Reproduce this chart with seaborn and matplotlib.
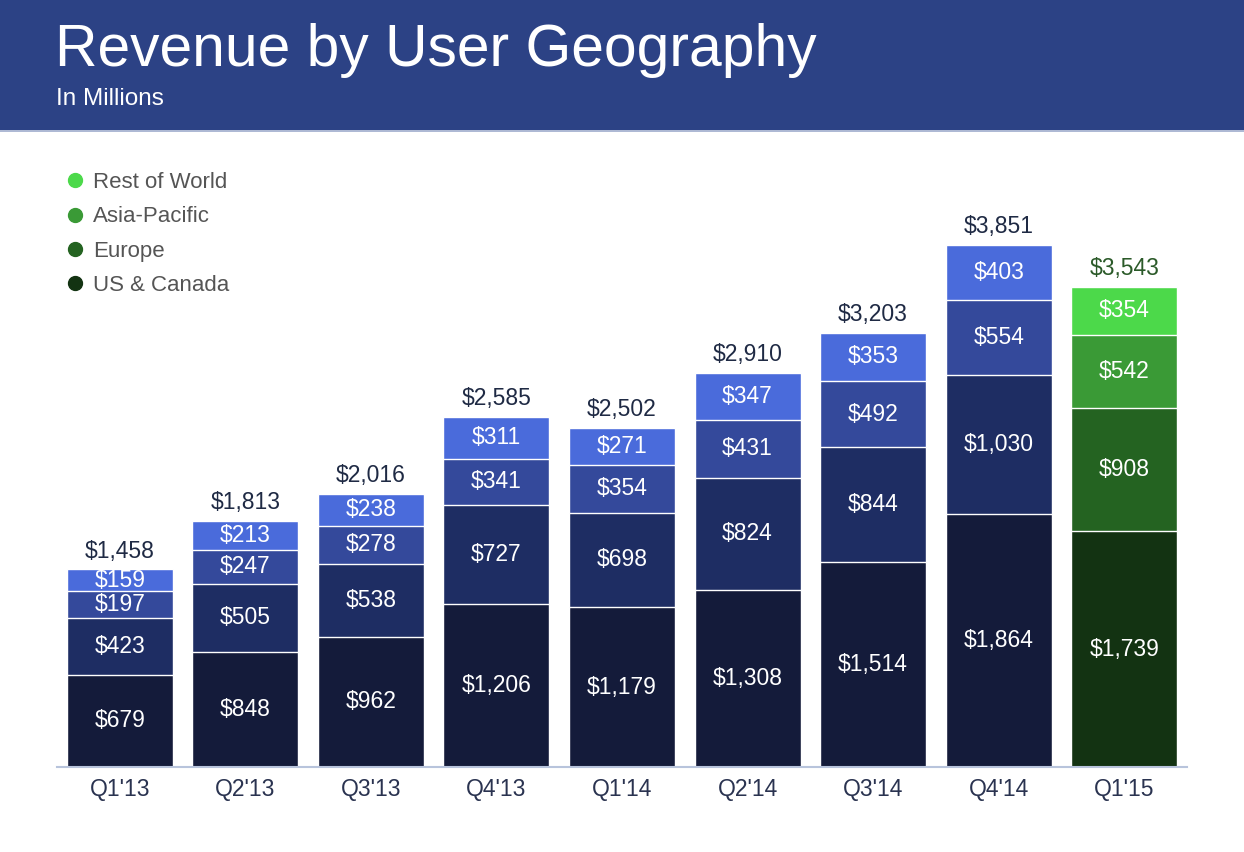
import matplotlib
matplotlib.use("Agg")
import matplotlib.pyplot as plt
import seaborn as sns
import numpy as np
from matplotlib.lines import Line2D
from matplotlib.patches import Rectangle

quarters = ["Q1'13", "Q2'13", "Q3'13", "Q4'13", "Q1'14", "Q2'14", "Q3'14", "Q4'14", "Q1'15"]
us_canada = [679, 848, 962, 1206, 1179, 1308, 1514, 1864, 1739]
europe = [423, 505, 538, 727, 698, 824, 844, 1030, 908]
asia_pacific = [197, 247, 278, 341, 354, 431, 492, 554, 542]
rest_of_world = [159, 213, 238, 311, 271, 347, 353, 403, 354]
totals = [1458, 1813, 2016, 2585, 2502, 2910, 3203, 3851, 3543]
series_names = ["US & Canada", "Europe", "Asia-Pacific", "Rest of World"]

blue_cols = ["#141B3A", "#1E2D63", "#34499B", "#4A6BDB"]
green_cols = ["#133312", "#246321", "#3A9A36", "#4CD94A"]

sns.set_theme(style="white")
plt.rcParams['font.family'] = ['Liberation Sans', 'DejaVu Sans']

W, H = 1244, 852
fig = plt.figure(figsize=(W / 100, H / 100), dpi=100)
fig.patch.set_facecolor("white")

# header band
fig.patches.append(Rectangle((0, 1 - 130 / H), 1, 130 / H, transform=fig.transFigure,
                             facecolor="#2C4285", edgecolor="none", zorder=0))
fig.patches.append(Rectangle((0, 1 - 132 / H), 1, 2 / H, transform=fig.transFigure,
                             facecolor="#AEB9D4", edgecolor="none", zorder=0))
fig.text(55 / W, 1 - 50 / H, "Revenue by User Geography", color="white", fontsize=42.3,
         va="center", ha="left")
fig.text(56 / W, 1 - 99 / H, "In Millions", color="white", fontsize=17.5,
         va="center", ha="left")

left, right = 57 / W, 1187 / W
bottom = 1 - 767 / H
ymax = 4000
ppu = 522 / 3851
ax = fig.add_axes([left, bottom, right - left, ymax * ppu / H])

series = [us_canada, europe, asia_pacific, rest_of_world]
cums = np.cumsum(np.array(series), axis=0)

# draw from top cumulative down (overlay)
for k in range(3, -1, -1):
    pal = [blue_cols[k]] * 8 + [green_cols[k]]
    sns.barplot(x=quarters, y=cums[k], hue=quarters, palette=pal, legend=False,
                width=0.845, edgecolor="white", linewidth=1.0, ax=ax, saturation=1)

for i in range(len(quarters)):
    for k in range(4):
        lo = cums[k - 1][i] if k > 0 else 0
        mid = (lo + cums[k][i]) / 2
        ax.text(i, mid, f"${series[k][i]:,}", ha="center", va="center",
                color="white", fontsize=16.5)
    tcol = "#2B5A29" if i == len(quarters) - 1 else "#1F2A44"
    ax.text(i, totals[i] + 50, f"${totals[i]:,}", ha="center", va="bottom",
            color=tcol, fontsize=16.5)

ax.set_xlim(-0.5, 8.5)
ax.set_ylim(0, ymax)
ax.set_yticks([])
ax.set_xlabel("")
ax.set_ylabel("")
for s in ["top", "right", "left"]:
    ax.spines[s].set_visible(False)
ax.spines["bottom"].set_color("#B8C4DC")
ax.spines["bottom"].set_linewidth(1.5)
ax.tick_params(axis="x", length=0, pad=8, labelsize=16.5, labelcolor="#2A3350")
ax.set_facecolor("none")

handles = [Line2D([0], [0], marker="o", linestyle="none", markersize=10,
                  markerfacecolor=c, markeredgecolor=c) for c in green_cols[::-1]]
fig.legend(handles, series_names[::-1], loc="upper left",
           bbox_to_anchor=(51 / W, 1 - 161 / H), frameon=False, fontsize=16,
           labelspacing=0.6, handletextpad=0.2, labelcolor="#555555",
           handlelength=1.2, borderpad=0)

fig.savefig("out.png", dpi=100)
